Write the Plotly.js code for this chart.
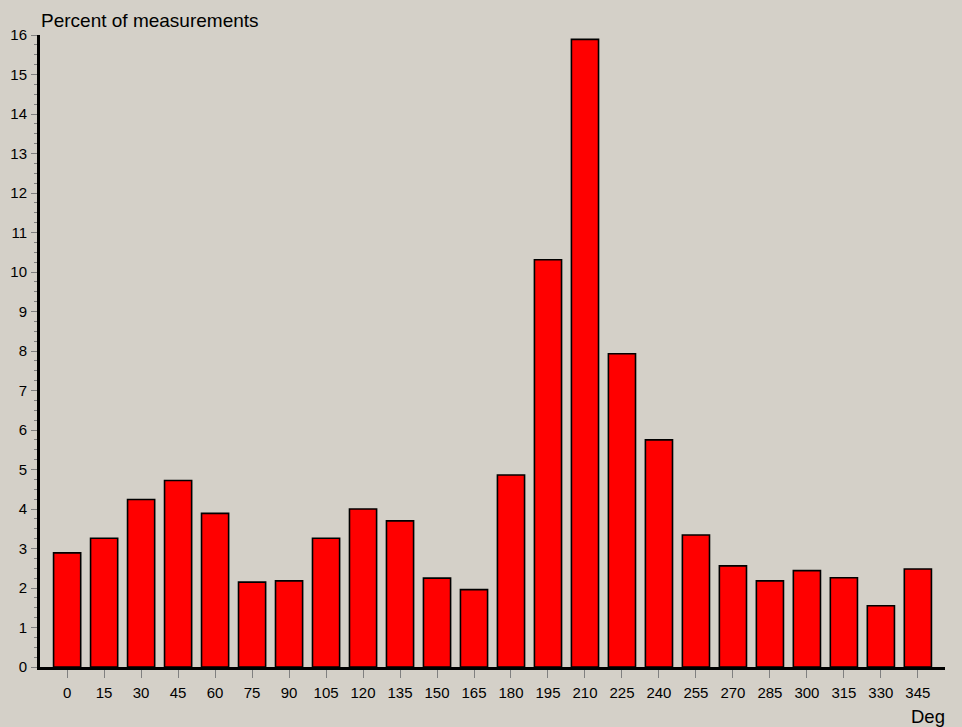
<!DOCTYPE html>
<html>
<head>
<meta charset="utf-8">
<script src="https://cdn.plot.ly/plotly-3.0.1.min.js"></script>
<style>
html,body{margin:0;padding:0;background:#d4d0c8;}
#chart{width:962px;height:727px;}
</style>
</head>
<body>
<div id="chart"></div>
<script>
const directions = [0,15,30,45,60,75,90,105,120,135,150,165,180,195,210,225,240,255,270,285,300,315,330,345];
const percents = [2.89,3.26,4.24,4.72,3.89,2.15,2.18,3.26,4.00,3.70,2.25,1.96,4.86,10.31,15.89,7.93,5.75,3.34,2.56,2.18,2.44,2.26,1.55,2.48];
const yTicks = [0,1,2,3,4,5,6,7,8,9,10,11,12,13,14,15,16];
const yTitle = 'Percent of measurements';
const xTitle = 'Deg';

const trace = {
  type: 'bar',
  x: directions,
  y: percents,
  width: 11,
  marker: {color: '#ff0000', line: {color: '#000000', width: 1.6}},
  hoverinfo: 'x+y'
};

const font = {family: 'Liberation Sans, Arial, sans-serif', color: '#000000'};

const layout = {
  width: 962,
  height: 727,
  paper_bgcolor: '#d4d0c8',
  plot_bgcolor: '#d4d0c8',
  margin: {l: 40, r: 17, t: 35, b: 60},
  showlegend: false,
  font: Object.assign({size: 15}, font),
  xaxis: {
    range: [-11, 356],
    tickvals: directions,
    ticktext: directions.map(String),
    ticks: 'outside',
    ticklen: 8,
    tickwidth: 1,
    tickcolor: '#808080',
    ticklabelstandoff: 2,
    showline: true,
    linecolor: '#000000',
    linewidth: 3,
    showgrid: false,
    zeroline: false,
    tickfont: Object.assign({size: 15}, font),
    fixedrange: true
  },
  yaxis: {
    range: [0, 16],
    tickvals: yTicks,
    ticktext: yTicks.map(String),
    ticks: 'outside',
    ticklen: 6,
    tickwidth: 1,
    tickcolor: '#808080',
    ticklabelstandoff: 1,
    minor: {dtick: 0.25, ticks: 'outside', ticklen: 3, tickcolor: '#808080', tickwidth: 1, showgrid: false},
    showline: true,
    linecolor: '#000000',
    linewidth: 3,
    showgrid: false,
    zeroline: false,
    tickfont: Object.assign({size: 15}, font),
    fixedrange: true
  },
  annotations: [
    {text: yTitle, xref: 'paper', yref: 'paper', x: 0, y: 1, xanchor: 'left', yanchor: 'bottom',
     xshift: -1, yshift: 2, showarrow: false, font: Object.assign({size: 19}, font)},
    {text: xTitle, xref: 'paper', yref: 'paper', x: 1, y: 0, xanchor: 'right', yanchor: 'top',
     xshift: 2, yshift: -37, showarrow: false, font: Object.assign({size: 18.5}, font)}
  ]
};

Plotly.newPlot('chart', [trace], layout, {displayModeBar: false, staticPlot: true});
</script>
</body>
</html>
